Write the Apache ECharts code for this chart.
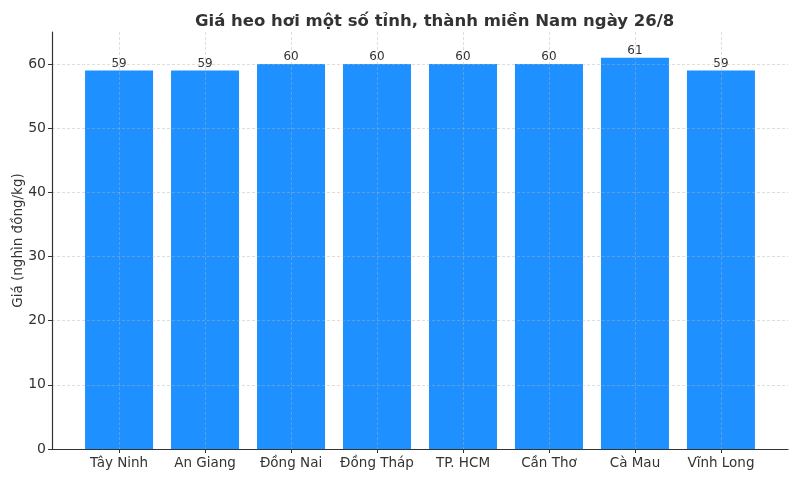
<!DOCTYPE html>
<html>
<head>
<meta charset="utf-8">
<script src="https://cdn.jsdelivr.net/npm/echarts@6/dist/echarts.min.js"></script>
<style>
  html, body { margin: 0; padding: 0; background: #fff; }
  #chart { width: 800px; height: 480px; }
</style>
</head>
<body>
<div id="chart"></div>
<script>
// Data
const provinces = ["Tây Ninh", "An Giang", "Đồng Nai", "Đồng Tháp", "TP. HCM", "Cần Thơ", "Cà Mau", "Vĩnh Long"];
const prices = [59, 59, 60, 60, 60, 60, 61, 59];

const chart = echarts.init(document.getElementById("chart"));
const font = "DejaVu Sans";

const option = {
  animation: false,
  textStyle: { fontFamily: font },
  title: {
    text: "Giá heo hơi một số tỉnh, thành miền Nam ngày 26/8",
    left: 190,
    top: 8,
    textStyle: { fontFamily: font, fontSize: 16.5, fontWeight: "bold", color: "#333" },
  },
  grid: { left: 52, right: 12, top: 32, bottom: 31, outerBoundsMode: "none" },
  // Numeric x so the bands keep matplotlib's padding at both ends
  xAxis: {
    type: "value",
    min: -0.78,
    max: 7.78,
    minInterval: 1,
    maxInterval: 1,
    z: 3,
    axisLine: { show: true, onZero: false, lineStyle: { color: "#333", width: 1.2 } },
    axisTick: { show: true, length: 4, lineStyle: { color: "#333" } },
    axisLabel: {
      showMinLabel: false,
      showMaxLabel: false,
      color: "#333",
      fontSize: 13.5,
      margin: 7,
      formatter: (v) => (Number.isInteger(v) ? provinces[v] : ""),
    },
    splitLine: {
      show: true,
      showMinLine: false,
      showMaxLine: false,
      lineStyle: { color: "rgba(180,180,180,0.55)", type: [3, 2], width: 0.8 },
    },
  },
  yAxis: {
    type: "value",
    min: 0,
    max: 65,
    interval: 10,
    z: 3,
    name: "Giá (nghìn đồng/kg)",
    nameLocation: "middle",
    nameGap: 27,
    nameMoveOverlap: false,
    nameTextStyle: { fontFamily: font, fontSize: 13.5, color: "#333" },
    axisLine: { show: true, onZero: false, lineStyle: { color: "#333", width: 1.2 } },
    axisTick: { show: true, length: 4, lineStyle: { color: "#333" } },
    axisLabel: { showMaxLabel: false, color: "#333", fontSize: 14, margin: 6 },
    splitLine: {
      show: true,
      showMaxLine: false,
      lineStyle: { color: "rgba(180,180,180,0.55)", type: [3, 2], width: 0.8 },
    },
  },
  series: [
    {
      type: "bar",
      data: prices.map((p, i) => [i, p]),
      barWidth: 68,
      itemStyle: { color: "#1E90FF" },
      label: {
        show: true,
        position: "top",
        distance: 1,
        color: "#333",
        fontSize: 12,
        fontFamily: font,
      },
    },
  ],
};

chart.setOption(option);
window.addEventListener("resize", () => chart.resize());
</script>
</body>
</html>
